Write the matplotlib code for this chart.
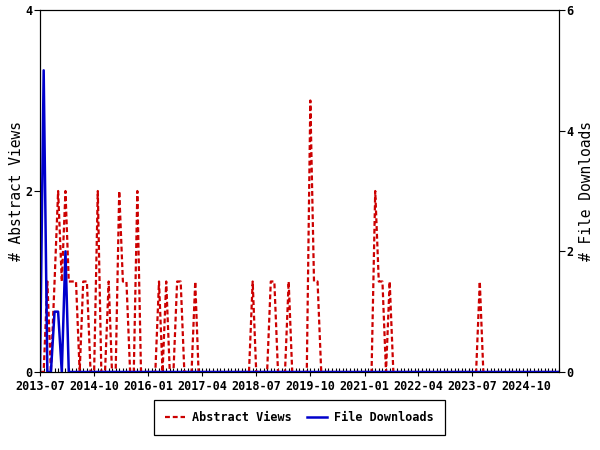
import matplotlib
matplotlib.use('Agg')
import matplotlib.pyplot as plt
import matplotlib.dates as mdates
from matplotlib.lines import Line2D
import pandas as pd

# monthly counts, 2013-07 .. 2025-07
start_month = '2013-07'
abstract_views = [
    0, 0, 1, 0, 1, 2, 1, 2, 1, 1, 1, 0, 1, 1, 0, 0, 2, 0, 0, 1,
    0, 0, 2, 1, 1, 0, 0, 2, 0, 0, 0, 0, 0, 1, 0, 1, 0, 0, 1, 1,
    0, 0, 0, 1, 0, 0, 0, 0, 0, 0, 0, 0, 0, 0, 0, 0, 0, 0, 0, 1,
    0, 0, 0, 0, 1, 1, 0, 0, 0, 1, 0, 0, 0, 0, 0, 3, 1, 1, 0, 0,
    0, 0, 0, 0, 0, 0, 0, 0, 0, 0, 0, 0, 0, 2, 1, 1, 0, 1, 0, 0,
    0, 0, 0, 0, 0, 0, 0, 0, 0, 0, 0, 0, 0, 0, 0, 0, 0, 0, 0, 0,
    0, 0, 1, 0, 0, 0, 0, 0, 0, 0, 0, 0, 0, 0, 0, 0, 0, 0, 0, 0,
    0, 0, 0, 0, 0,
]
file_downloads = [
    0, 5, 0, 0, 1, 1, 0, 2, 0, 0, 0, 0, 0, 0, 0, 0, 0, 0, 0, 0,
    0, 0, 0, 0, 0, 0, 0, 0, 0, 0, 0, 0, 0, 0, 0, 0, 0, 0, 0, 0,
    0, 0, 0, 0, 0, 0, 0, 0, 0, 0, 0, 0, 0, 0, 0, 0, 0, 0, 0, 0,
    0, 0, 0, 0, 0, 0, 0, 0, 0, 0, 0, 0, 0, 0, 0, 0, 0, 0, 0, 0,
    0, 0, 0, 0, 0, 0, 0, 0, 0, 0, 0, 0, 0, 0, 0, 0, 0, 0, 0, 0,
    0, 0, 0, 0, 0, 0, 0, 0, 0, 0, 0, 0, 0, 0, 0, 0, 0, 0, 0, 0,
    0, 0, 0, 0, 0, 0, 0, 0, 0, 0, 0, 0, 0, 0, 0, 0, 0, 0, 0, 0,
    0, 0, 0, 0, 0,
]
x_tick_labels = ['2013-07', '2014-10', '2016-01', '2017-04', '2018-07',
                 '2019-10', '2021-01', '2022-04', '2023-07', '2024-10']
left_ticks = [0, 2, 4]
right_ticks = [0, 2, 4, 6]

months = pd.date_range(start_month, periods=len(abstract_views), freq='MS')

mono = 'DejaVu Sans Mono'
red = '#cc0000'
blue = '#0000cc'

fig = plt.figure(figsize=(6, 4.5), dpi=100)
ax = fig.add_axes([40 / 600, 1 - 372 / 450, 519 / 600, 362 / 450])
ax2 = ax.twinx()

ax.plot(months, abstract_views, color=red, lw=1.6, dashes=(2.2, 1.3))
ax2.plot(months, file_downloads, color=blue, lw=1.8)

ax.set_xlim(months[0], months[-1])
ax.set_ylim(0, 4)
ax2.set_ylim(0, 6)
ax.set_yticks(left_ticks)
ax2.set_yticks(right_ticks)

ax.set_xticks(pd.to_datetime(x_tick_labels))
ax.set_xticklabels(x_tick_labels)
ax.xaxis.set_minor_locator(mdates.MonthLocator())

for a in (ax, ax2):
    for s in a.spines.values():
        s.set_linewidth(0.8)
    a.tick_params(which='major', length=4, width=0.8, pad=1.5)
    for lab in a.get_xticklabels() + a.get_yticklabels():
        lab.set_family(mono)
        lab.set_fontweight('bold')
        lab.set_fontsize(8.5)
ax.tick_params(axis='x', which='major', direction='inout', length=6, pad=3)
ax.tick_params(axis='x', which='minor', direction='in', length=3, width=0.8)

ax.set_ylabel('# Abstract Views', family=mono, fontsize=10.5, labelpad=1)
ax2.set_ylabel('# File Downloads', family=mono, fontsize=10.5, labelpad=4)

handles = [Line2D([], [], color=red, lw=1.6, dashes=(2.2, 1.3)),
           Line2D([], [], color=blue, lw=1.8)]
leg = fig.legend(handles, ['Abstract Views', 'File Downloads'],
                 loc='center', bbox_to_anchor=(299.5 / 600, 1 - 417.5 / 450),
                 ncol=2, fancybox=False, edgecolor='black', framealpha=1,
                 prop={'family': mono, 'weight': 'bold', 'size': 8.5},
                 handlelength=1.7, handletextpad=0.6, columnspacing=1.3,
                 borderpad=0.95, borderaxespad=0)
leg.get_frame().set_linewidth(0.9)

fig.savefig('out.png', dpi=100)
